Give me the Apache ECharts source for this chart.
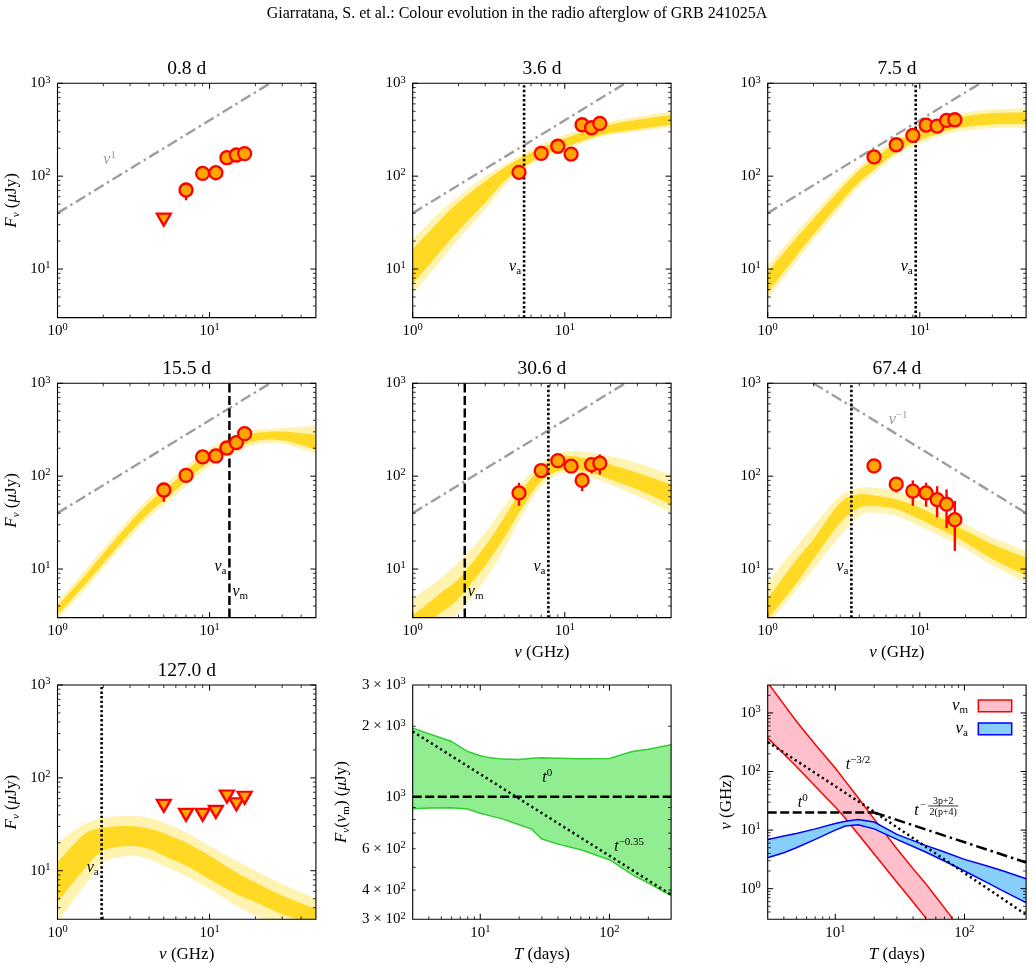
<!DOCTYPE html>
<html>
<head>
<meta charset="utf-8">
<script src="https://cdn.jsdelivr.net/npm/echarts@6/dist/echarts.min.js"></script>
<style>
html, body { margin:0; padding:0; background:#fff; }
#chart { width:1034px; height:969px; }
</style>
</head>
<body>
<div id="chart"></div>
<script>
// ======================= DATA =======================
const figureTitle = 'Giarratana, S. et al.: Colour evolution in the radio afterglow of GRB 241025A';
const epochLabels = ['0.8 d', '3.6 d', '7.5 d', '15.5 d', '30.6 d', '67.4 d', '127.0 d'];
const freqGHz = [5, 7, 9, 11, 13, 15, 17];

// measured flux densities (uJy) and 1-sigma bounds
const flux_0_8   = [34, 71, 107, 109, 158, 169, 175];
const fluxLo_0_8 = [34, 55, 99, 90, 150, 161, 167];
const fluxHi_0_8 = [34, 85, 115, 126, 166, 177, 183];
const isLimit_0_8 = [1, 0, 0, 0, 0, 0, 0];

const flux_3_6   = [110, 176, 210, 173, 358, 332, 370];
const fluxLo_3_6 = [92, 166, 200, 163, 344, 320, 356];
const fluxHi_3_6 = [124, 186, 220, 183, 372, 344, 384];

const flux_7_5   = [161, 218, 275, 355, 346, 398, 405];
const fluxLo_7_5 = [153, 209, 264, 341, 332, 382, 389];
const fluxHi_7_5 = [169, 227, 286, 369, 360, 414, 421];

const flux_15_5   = [71, 102, 161, 165, 201, 230, 287];
const fluxLo_15_5 = [53, 91, 153, 157, 191, 219, 273];
const fluxHi_15_5 = [85, 113, 169, 173, 211, 241, 301];

const flux_30_6   = [66, 115, 147, 128, 90, 133, 138];
const fluxLo_30_6 = [48, 100, 139, 120, 69, 107, 104];
const fluxHi_30_6 = [85, 134, 155, 136, 109, 157, 171];

const flux_67_4   = [129, 82, 69, 66, 56, 50, 34];
const fluxLo_67_4 = [107, 67, 48, 47, 36, 27.5, 15.7];
const fluxHi_67_4 = [151, 92, 90, 85, 78, 72, 54];

const limit_127_0 = [50, 40, 40, 43, 63, 52, 61];
const noLimit = [0, 0, 0, 0, 0, 0, 0];
const allLimit = [1, 1, 1, 1, 1, 1, 1];

// model envelope (posterior curves): outer spread and dense core
const modelNu = [1, 1.5, 2, 3, 4, 5, 7, 10, 15, 20, 30, 50];

const model_3_6_outerHi = [21, 40.5, 61, 100, 133, 164, 222, 279, 343, 388, 439, 497];
const model_3_6_outerLo = [5.4, 11.8, 21, 44, 78, 109, 153, 193, 247, 279, 303, 338];
const model_3_6_coreHi  = [16.4, 33, 52, 88, 123, 153, 201, 255, 321, 361, 405, 458];
const model_3_6_coreLo  = [6.9, 15.1, 25.8, 52, 88, 116, 164, 205, 260, 291, 321, 358];

const model_7_5_outerHi = [10.9, 23.7, 39.8, 81.5, 128, 168, 253, 338, 429, 485, 522, 540];
const model_7_5_outerLo = [4.8, 11.3, 20.6, 45.8, 78.1, 106, 168, 224, 285, 311, 330, 330];
const model_7_5_coreHi  = [9.2, 20.5, 34.9, 72, 116, 152, 233, 311, 395, 443, 477, 489];
const model_7_5_coreLo  = [5.6, 13.1, 23.5, 51.8, 86.3, 117, 182, 243, 308, 340, 361, 364];

const model_15_5_outerHi = [4.4, 9.6, 16.6, 35.8, 58.6, 79.4, 128, 201, 279, 316, 330, 349];
const model_15_5_outerLo = [2.9, 5.9, 10.2, 21.8, 35.8, 48.5, 78.1, 128, 181, 218, 224, 175];
const model_15_5_coreHi  = [4.0, 8.3, 14.7, 31.6, 51.8, 70.2, 113, 181, 247, 291, 303, 279];
const model_15_5_coreLo  = [3.2, 6.7, 11.5, 24.7, 40.5, 54.8, 88.3, 144, 200, 239, 243, 193];

const model_30_6_outerHi = [4.8, 7.8, 11.8, 24.7, 47.7, 78.1, 139, 185, 178, 164, 139, 104];
const model_30_6_outerLo = [1.6, 2.5, 3.4, 7.8, 16.4, 33, 78.1, 109, 96, 81.5, 61, 40.5];
const model_30_6_coreHi  = [3.16, 5.4, 7.8, 17.8, 35.8, 63.7, 123, 164, 151, 133, 109, 81.5];
const model_30_6_coreLo  = [1.9, 3.3, 4.8, 10.9, 21.8, 40.5, 88.3, 118, 109, 92, 72, 49.7];

const model_67_4_outerHi = [7.2, 16.4, 29.1, 61, 75, 75, 69, 54, 38.8, 30.3, 21.8, 15.7];
const model_67_4_outerLo = [2.5, 5.6, 10, 22.8, 37.3, 40.5, 37.3, 29.1, 21, 16.4, 10.9, 7.2];
const model_67_4_coreHi  = [4.8, 11.8, 21, 51.8, 63.7, 62, 56.2, 45.8, 33, 25.8, 18.5, 13.3];
const model_67_4_coreLo  = [2.9, 6.6, 12.8, 31.6, 45.8, 47.7, 44, 34.3, 24.7, 19.3, 12.8, 8.5];

const model_127_0_outerHi = [20.1, 31.6, 37.3, 38.8, 37.3, 33, 25.8, 18.5, 12.8, 10, 7.2, 5.0];
const model_127_0_outerLo = [2.8, 6.9, 12.3, 14.5, 13.3, 11.3, 8.8, 6.4, 4.2, 3.3, 2.4, 1.7];
const model_127_0_coreHi  = [12.3, 24.7, 29.1, 30.3, 28.4, 25.4, 20.1, 14.5, 9.6, 7.5, 5.4, 3.9];
const model_127_0_coreLo  = [4.6, 10.4, 16.4, 18.5, 17.1, 14.5, 11.3, 8.1, 5.6, 4.6, 3.4, 2.6];

// break frequencies (GHz) per epoch
const nuAbs = [null, 5.4, 9.4, 13.5, 7.8, 3.55, 1.95];
const nuMin = [null, null, null, 13.5, 2.2, null, null];

// reference power laws
const guideRiseNu = [1, 25],  guideRiseFlux = [40, 1000];   // nu^1
const guideFallNu = [2, 50],  guideFallFlux = [1000, 40];   // nu^-1

// F_nu(nu_m) evolution
const fmT  = [3, 4, 6, 8, 10, 12, 15, 20, 25, 30, 40, 60, 100, 150, 200, 300];
const fmHi = [1963, 1858, 1722, 1560, 1496, 1466, 1448, 1443, 1462, 1466, 1462, 1452, 1458, 1560, 1596, 1667];
const fmLo = [889, 895, 898, 886, 851, 829, 803, 760, 728, 660, 628, 594, 539, 465, 428, 379];
const fmFlatT = [3, 300], fmFlatF = [1000, 1000];
const fmDeclT = [3, 300], fmDeclF = [1900, 382];

// nu_m and nu_a evolution
const numHiT = [3, 4, 5, 7, 10, 12, 15, 20, 30, 40, 50, 60, 70, 81];
const numHi  = [3300, 1400, 720, 290, 115, 68, 36, 15.4, 4.8, 2.2, 1.23, 0.73, 0.47, 0.308];
const numLoT = [3, 4, 5, 7, 10, 12, 15, 20, 30, 40, 50.7];
const numLo  = [375, 199, 122, 56, 24.7, 15.8, 8.6, 3.9, 1.29, 0.59, 0.308];
const nuaT  = [3, 4, 5, 7, 10, 12, 15, 20, 30, 50, 70, 100, 150, 200, 300];
const nuaHi = [6.93, 7.9, 8.78, 10.5, 13.0, 14.2, 15.2, 13.7, 8.43, 5.48, 4.22, 3.16, 2.43, 2.0, 1.48];
const nuaLo = [3.37, 4.11, 5.0, 6.93, 10.0, 11.7, 12.3, 10.5, 6.93, 4.22, 2.97, 2.0, 1.27, 0.91, 0.577];
const nuFlatT = [3, 20], nuFlat = [20, 20];
const nuSteepT = [3, 18, 300], nuSteep = [320, 24, 0.36];
const nuLateT = [20, 300], nuLate = [20, 2.8];

// axis ranges / ticks / tick labels
const sedXRange = [1, 50], sedYRange = [3, 1000];
const sedXMajor = [1, 10], sedXMinor = [2, 3, 4, 5, 6, 7, 8, 9, 20, 30, 40];
const sedYMajor = [10, 100, 1000];
const sedYMinor = [4, 5, 6, 7, 8, 9, 20, 30, 40, 50, 60, 70, 80, 90, 200, 300, 400, 500, 600, 700, 800, 900];
const sedXLabelValues = [1, 10], sedXLabels = ['{b|10}{e|0}', '{b|10}{e|1}'];
const sedYLabelValues = [10, 100, 1000], sedYLabels = ['{b|10}{e|1}', '{b|10}{e|2}', '{b|10}{e|3}'];

const tRange = [3, 300];
const tMajor = [10, 100], tMinor = [4, 5, 6, 7, 8, 9, 20, 30, 40, 50, 60, 70, 80, 90, 200];
const tLabelValues = [10, 100], tLabels = ['{b|10}{e|1}', '{b|10}{e|2}'];
const fmYRange = [300, 3000];
const fmYMajor = [1000], fmYMinor = [400, 500, 600, 700, 800, 900, 2000];
const fmYLabelValues = [300, 400, 600, 1000, 2000, 3000];
const fmYLabels = ['{b|3 × 10}{e|2}', '{b|4 × 10}{e|2}', '{b|6 × 10}{e|2}', '{b|10}{e|3}', '{b|2 × 10}{e|3}', '{b|3 × 10}{e|3}'];
const nuYRange = [0.3, 3000];
const nuYMajor = [1, 10, 100, 1000];
const nuYMinor = [0.4, 0.5, 0.6, 0.7, 0.8, 0.9, 2, 3, 4, 5, 6, 7, 8, 9, 20, 30, 40, 50, 60, 70, 80, 90, 200, 300, 400, 500, 600, 700, 800, 900, 2000];
const nuYLabelValues = [1, 10, 100, 1000], nuYLabels = ['{b|10}{e|0}', '{b|10}{e|1}', '{b|10}{e|2}', '{b|10}{e|3}'];

// ======================= STYLE / LAYOUT =======================
const FONT = 'Liberation Serif';
const COL_X = [57.5, 412.7, 767.7], ROW_Y = [83.3, 383.3, 685];
const PW = 258.4, PH = 234.3;
const GOLD_OUT = 'rgba(255,215,0,0.30)', GOLD_CORE = 'rgba(255,210,0,0.80)';

function richFor(c, big) {
  const m = big || 16;
  return {
    i:  {fontFamily: FONT, fontStyle: 'italic', fontSize: m, lineHeight: 20, fill: c},
    r:  {fontFamily: FONT, fontSize: m, lineHeight: 20, fill: c},
    s:  {fontFamily: FONT, fontSize: 11, lineHeight: 12, verticalAlign: 'bottom', fill: c},
    si: {fontFamily: FONT, fontStyle: 'italic', fontSize: 11, lineHeight: 12, verticalAlign: 'bottom', fill: c},
    u:  {fontFamily: FONT, fontSize: 11, lineHeight: 11, verticalAlign: 'top', fill: c},
    b:  {fontFamily: FONT, fontSize: 15, lineHeight: 18, fill: c},
    e:  {fontFamily: FONT, fontSize: 10.5, lineHeight: 10, verticalAlign: 'top', fill: c}
  };
}
const RICH_K = richFor('#000');
const RICH_G = richFor('#9a9a9a');
const RICH_AX = richFor('#000', 17);

const grids = [], xAxes = [], yAxes = [], series = [], graphics = [];

function logAxis(gi, range) {
  return {type: 'log', logBase: 10, gridIndex: gi, min: range[0], max: range[1],
    axisLine: {show: false}, axisTick: {show: false}, axisLabel: {show: false},
    splitLine: {show: false}, minorTick: {show: false}, minorSplitLine: {show: false}};
}
function addGrid(gi, xr, yr) {
  const c = gi % 3, r = Math.floor(gi / 3);
  grids.push({left: COL_X[c], top: ROW_Y[r], width: PW, height: PH, show: false, containLabel: false});
  xAxes.push(logAxis(gi, xr));
  yAxes.push(logAxis(gi, yr));
}

function frameSeries(gi, cfg) {
  return {
    type: 'custom', xAxisIndex: gi, yAxisIndex: gi, silent: true, z: 20, clip: false,
    data: [[cfg.xr[0], cfg.yr[0]]],
    renderItem: function (params, api) {
      const bl = api.coord([cfg.xr[0], cfg.yr[0]]), tr = api.coord([cfg.xr[1], cfg.yr[1]]);
      const L = bl[0], B = bl[1], R = tr[0], T = tr[1];
      const ch = [];
      const ln = (x1, y1, x2, y2, w) => ch.push({type: 'line', shape: {x1, y1, x2, y2}, style: {stroke: '#000', lineWidth: w}});
      const xt = (v, len, w) => { const x = api.coord([v, cfg.yr[0]])[0]; ln(x, B, x, B - len, w); ln(x, T, x, T + len, w); };
      const yt = (v, len, w) => { const y = api.coord([cfg.xr[0], v])[1]; ln(L, y, L + len, y, w); ln(R, y, R - len, y, w); };
      cfg.xMajor.forEach(v => xt(v, 5.5, 1));
      cfg.xMinor.forEach(v => xt(v, 3, 0.8));
      cfg.yMajor.forEach(v => yt(v, 5.5, 1));
      cfg.yMinor.forEach(v => yt(v, 3, 0.8));
      ch.push({type: 'rect', shape: {x: L, y: T, width: R - L, height: B - T}, style: {fill: 'none', stroke: '#000', lineWidth: 1.1}});
      cfg.xLabelValues.forEach((v, i) => {
        const x = api.coord([v, cfg.yr[0]])[0];
        ch.push({type: 'text', x: x, y: B + 13.5, style: {text: cfg.xLabels[i], rich: RICH_K, fontFamily: FONT, fontSize: 15, align: 'center', verticalAlign: 'middle'}});
      });
      cfg.yLabelValues.forEach((v, i) => {
        const y = api.coord([cfg.xr[0], v])[1];
        ch.push({type: 'text', x: L - 7, y: y, style: {text: cfg.yLabels[i], rich: RICH_K, fontFamily: FONT, fontSize: 15, align: 'right', verticalAlign: 'middle'}});
      });
      return {type: 'group', children: ch};
    }
  };
}

function annoSeries(gi, items) {
  return {
    type: 'custom', xAxisIndex: gi, yAxisIndex: gi, silent: true, z: 15, clip: false,
    data: items.map(a => [a.x, a.y]),
    renderItem: function (params, api) {
      const a = items[params.dataIndex];
      const p = api.coord([a.x, a.y]);
      const x = p[0] + (a.dx || 0), y = p[1] + (a.dy || 0);
      if (a.frac) {
        const f = {fontFamily: FONT, fontSize: 10, fill: '#000'};
        return {type: 'group', children: [
          {type: 'text', x: x - 23, y: y + 1, style: {text: '{i|t}', rich: RICH_K, align: 'left', verticalAlign: 'middle'}},
          {type: 'text', x: x - 17, y: y - 4, style: Object.assign({text: '−', align: 'left', verticalAlign: 'middle'}, f)},
          {type: 'text', x: x + 6, y: y - 8, style: Object.assign({text: '3p+2', align: 'center', verticalAlign: 'middle'}, f)},
          {type: 'line', shape: {x1: x - 9, y1: y - 3.5, x2: x + 21, y2: y - 3.5}, style: {stroke: '#000', lineWidth: 0.8}},
          {type: 'text', x: x + 6, y: y + 2.5, style: Object.assign({text: '2(p+4)', align: 'center', verticalAlign: 'middle'}, f)}
        ]};
      }
      return {type: 'text', x: x, y: y, style: {text: a.text, rich: a.gray ? RICH_G : RICH_K, fontFamily: FONT, fontSize: 16, align: a.align || 'center', verticalAlign: 'middle'}};
    }
  };
}

function lineSeries(gi, xs, ys, color, width, type, z) {
  return {type: 'line', xAxisIndex: gi, yAxisIndex: gi, silent: true, symbol: 'none', z: z || 5,
    data: xs.map((x, i) => [x, ys[i]]),
    lineStyle: {color: color, width: width, type: type}};
}

// Catmull-Rom -> cubic bezier path segments through pixel points
function splineCmds(pts) {
  let d = '';
  for (let i = 0; i < pts.length - 1; i++) {
    const p0 = pts[Math.max(i - 1, 0)], p1 = pts[i], p2 = pts[i + 1], p3 = pts[Math.min(i + 2, pts.length - 1)];
    const c1x = p1[0] + (p2[0] - p0[0]) / 6, c1y = p1[1] + (p2[1] - p0[1]) / 6;
    const c2x = p2[0] - (p3[0] - p1[0]) / 6, c2y = p2[1] - (p3[1] - p1[1]) / 6;
    d += ' C ' + c1x + ' ' + c1y + ' ' + c2x + ' ' + c2y + ' ' + p2[0] + ' ' + p2[1];
  }
  return d;
}

// smooth model envelope drawn through the axis scales
function smoothBand(gi, lo, hi, color) {
  return {
    type: 'custom', xAxisIndex: gi, yAxisIndex: gi, silent: true, clip: true, z: 2,
    data: [[modelNu[0], sedYRange[0]]],
    renderItem: function (params, api) {
      const top = modelNu.map((v, i) => api.coord([v, hi[i]]));
      const bot = modelNu.map((v, i) => api.coord([v, lo[i]])).reverse();
      const d = 'M ' + top[0][0] + ' ' + top[0][1] + splineCmds(top) +
        ' L ' + bot[0][0] + ' ' + bot[0][1] + splineCmds(bot) + ' Z';
      return {type: 'path', shape: {pathData: d}, style: {fill: color, stroke: null}};
    }
  };
}

function bandPolygon(gi, anchor, xsHi, hi, xsLo, lo, fill, stroke) {
  return {
    type: 'custom', xAxisIndex: gi, yAxisIndex: gi, silent: true, clip: true, z: 2,
    data: [anchor],
    renderItem: function (params, api) {
      const top = xsHi.map((x, i) => api.coord([x, hi[i]]));
      const bot = xsLo.map((x, i) => api.coord([x, lo[i]]));
      const poly = top.concat(bot.slice().reverse());
      return {type: 'group', children: [
        {type: 'polygon', shape: {points: poly}, style: {fill: fill, stroke: null}},
        {type: 'polyline', shape: {points: top}, style: {stroke: stroke, lineWidth: 1.5, fill: null}},
        {type: 'polyline', shape: {points: bot}, style: {stroke: stroke, lineWidth: 1.5, fill: null}}
      ]};
    }
  };
}

const DOTTED = [2.4, 2.2], DASHED = [9, 3.5], DASHDOT = [11, 4, 2.5, 4];

// ======================= SED PANELS =======================
const sedPanels = [
  {flux: flux_0_8,  lo: fluxLo_0_8,  hi: fluxHi_0_8,  lim: isLimit_0_8, band: null, guide: 'rise', gLabel: {x: 2.2, y: 150, text: '{i|ν}{u|1}'}},
  {flux: flux_3_6,  lo: fluxLo_3_6,  hi: fluxHi_3_6,  lim: noLimit, band: [model_3_6_outerLo, model_3_6_outerHi, model_3_6_coreLo, model_3_6_coreHi], guide: 'rise'},
  {flux: flux_7_5,  lo: fluxLo_7_5,  hi: fluxHi_7_5,  lim: noLimit, band: [model_7_5_outerLo, model_7_5_outerHi, model_7_5_coreLo, model_7_5_coreHi], guide: 'rise'},
  {flux: flux_15_5, lo: fluxLo_15_5, hi: fluxHi_15_5, lim: noLimit, band: [model_15_5_outerLo, model_15_5_outerHi, model_15_5_coreLo, model_15_5_coreHi], guide: 'rise'},
  {flux: flux_30_6, lo: fluxLo_30_6, hi: fluxHi_30_6, lim: noLimit, band: [model_30_6_outerLo, model_30_6_outerHi, model_30_6_coreLo, model_30_6_coreHi], guide: 'rise'},
  {flux: flux_67_4, lo: fluxLo_67_4, hi: fluxHi_67_4, lim: noLimit, band: [model_67_4_outerLo, model_67_4_outerHi, model_67_4_coreLo, model_67_4_coreHi], guide: 'fall', gLabel: {x: 7.2, y: 404, text: '{i|ν}{u|−1}'}},
  {flux: limit_127_0, lo: null, hi: null, lim: allLimit, band: [model_127_0_outerLo, model_127_0_outerHi, model_127_0_coreLo, model_127_0_coreHi], guide: null}
];

sedPanels.forEach((p, gi) => {
  addGrid(gi, sedXRange, sedYRange);
  if (p.band) {
    series.push(smoothBand(gi, p.band[0], p.band[1], GOLD_OUT));
    series.push(smoothBand(gi, p.band[2], p.band[3], GOLD_CORE));
  }
  if (p.guide === 'rise') series.push(lineSeries(gi, guideRiseNu, guideRiseFlux, '#9e9e9e', 2.4, DASHDOT, 4));
  if (p.guide === 'fall') series.push(lineSeries(gi, guideFallNu, guideFallFlux, '#9e9e9e', 2.4, DASHDOT, 4));
  const annos = [];
  if (p.gLabel) annos.push(Object.assign({gray: true}, p.gLabel));
  if (nuAbs[gi] != null && nuAbs[gi] !== nuMin[gi]) {
    series.push(lineSeries(gi, [nuAbs[gi], nuAbs[gi]], sedYRange, '#000', 2.6, DOTTED, 5));
  }
  if (nuMin[gi] != null) {
    series.push(lineSeries(gi, [nuMin[gi], nuMin[gi]], sedYRange, '#000', 2.5, DASHED, 5));
  }
  if (nuAbs[gi] != null) annos.push({x: nuAbs[gi], y: 10.7, text: '{i|ν}{s|a}', align: 'right', dx: -3});
  if (nuMin[gi] != null) annos.push({x: nuMin[gi], y: 5.7, text: '{i|ν}{s|m}', align: 'left', dx: 3});
  // error bars
  if (p.lo) {
    const eb = [];
    freqGHz.forEach((f, i) => { if (!p.lim[i]) eb.push([f, p.lo[i], p.hi[i]]); });
    series.push({type: 'custom', xAxisIndex: gi, yAxisIndex: gi, silent: true, z: 6,
      data: eb,
      renderItem: function (params, api) {
        const a = api.coord([api.value(0), api.value(1)]);
        const b = api.coord([api.value(0), api.value(2)]);
        return {type: 'line', shape: {x1: a[0], y1: a[1], x2: b[0], y2: b[1]}, style: {stroke: '#FF0000', lineWidth: 2.4}};
      }});
  }
  series.push({type: 'scatter', xAxisIndex: gi, yAxisIndex: gi, silent: true, z: 7,
    symbolSize: 13,
    itemStyle: {color: '#FFA500', borderColor: '#FF0000', borderWidth: 2.3, opacity: 1},
    data: freqGHz.map((f, i) => p.lim[i]
      ? {value: [f, p.flux[i]], symbol: 'triangle', symbolRotate: 180, symbolSize: [14, 12]}
      : {value: [f, p.flux[i]], symbol: 'circle'})});
  if (annos.length) series.push(annoSeries(gi, annos));
  series.push(frameSeries(gi, {xr: sedXRange, yr: sedYRange, xMajor: sedXMajor, xMinor: sedXMinor,
    yMajor: sedYMajor, yMinor: sedYMinor, xLabelValues: sedXLabelValues, xLabels: sedXLabels,
    yLabelValues: sedYLabelValues, yLabels: sedYLabels}));
});

// ======================= F_nu(nu_m) PANEL =======================
addGrid(7, tRange, fmYRange);
series.push(bandPolygon(7, [10, 1000], fmT, fmHi, fmT, fmLo, '#90EE90', '#32CD32'));
series.push(lineSeries(7, fmFlatT, fmFlatF, '#000', 2.5, DASHED, 5));
series.push(lineSeries(7, fmDeclT, fmDeclF, '#000', 2.5, [2.2, 3.2], 5));
series.push(annoSeries(7, [
  {x: 33, y: 1206, text: '{i|t}{u|0}'},
  {x: 142, y: 611, text: '{i|t}{u|−0.35}'}
]));
series.push(frameSeries(7, {xr: tRange, yr: fmYRange, xMajor: tMajor, xMinor: tMinor,
  yMajor: fmYMajor, yMinor: fmYMinor, xLabelValues: tLabelValues, xLabels: tLabels,
  yLabelValues: fmYLabelValues, yLabels: fmYLabels}));

// ======================= nu_m / nu_a PANEL =======================
addGrid(8, tRange, nuYRange);
series.push(bandPolygon(8, [10, 10], numHiT, numHi, numLoT, numLo, '#FFC0CB', '#FF0000'));
series.push(bandPolygon(8, [10, 10], nuaT, nuaHi, nuaT, nuaLo, '#87CEFA', '#0000FF'));
series.push(lineSeries(8, nuFlatT, nuFlat, '#000', 2.5, DASHED, 5));
series.push(lineSeries(8, nuSteepT, nuSteep, '#000', 2.5, [2.2, 3.2], 5));
series.push(lineSeries(8, nuLateT, nuLate, '#000', 2.5, DASHDOT, 5));
series.push(annoSeries(8, [
  {x: 15, y: 131, text: '{i|t}{u|−3/2}'},
  {x: 5.6, y: 29.6, text: '{i|t}{u|0}'},
  {x: 61.6, y: 22.5, frac: true}
]));
series.push(frameSeries(8, {xr: tRange, yr: nuYRange, xMajor: tMajor, xMinor: tMinor,
  yMajor: nuYMajor, yMinor: nuYMinor, xLabelValues: tLabelValues, xLabels: tLabels,
  yLabelValues: nuYLabelValues, yLabels: nuYLabels}));

// ======================= TEXT (titles, axis names, legend) =======================
graphics.push({type: 'text', x: 517, y: 14, style: {text: figureTitle, fontFamily: FONT, fontSize: 16, fill: '#000', align: 'center', verticalAlign: 'middle'}});
epochLabels.forEach((t, k) => {
  const c = k % 3, r = Math.floor(k / 3);
  graphics.push({type: 'text', x: COL_X[c] + PW / 2, y: ROW_Y[r] - 14.5, style: {text: t, fontFamily: FONT, fontSize: 19.5, fill: '#000', align: 'center', verticalAlign: 'middle'}});
});
const FNU = '{i|F}{si|ν}{r| (}{i|μ}{r|Jy)}';
[0, 1, 2].forEach(r => graphics.push({type: 'text', x: 12, y: ROW_Y[r] + PH / 2, rotation: Math.PI / 2,
  style: {text: FNU, rich: RICH_AX, align: 'center', verticalAlign: 'middle'}}));
const NUGHZ = '{i|ν}{r| (GHz)}', TDAYS = '{i|T}{r| (days)}';
[[1, 1, NUGHZ], [2, 1, NUGHZ], [0, 2, NUGHZ], [1, 2, TDAYS], [2, 2, TDAYS]].forEach(([c, r, t]) =>
  graphics.push({type: 'text', x: COL_X[c] + PW / 2, y: ROW_Y[r] + PH + 35, style: {text: t, rich: RICH_AX, align: 'center', verticalAlign: 'middle'}}));
graphics.push({type: 'text', x: 342, y: ROW_Y[2] + PH / 2, rotation: Math.PI / 2,
  style: {text: '{i|F}{si|ν}{r|(}{i|ν}{s|m}{r|) (}{i|μ}{r|Jy)}', rich: RICH_AX, align: 'center', verticalAlign: 'middle'}});
graphics.push({type: 'text', x: 727, y: ROW_Y[2] + PH / 2, rotation: Math.PI / 2,
  style: {text: NUGHZ, rich: RICH_AX, align: 'center', verticalAlign: 'middle'}});
// legend of last panel
graphics.push({type: 'rect', shape: {x: 978.3, y: 700, width: 33.4, height: 11.7}, style: {fill: '#FFC0CB', stroke: '#FF0000', lineWidth: 1.5}});
graphics.push({type: 'rect', shape: {x: 978.3, y: 723, width: 33.4, height: 11.7}, style: {fill: '#87CEFA', stroke: '#0000FF', lineWidth: 1.5}});
graphics.push({type: 'text', x: 968, y: 706, style: {text: '{i|ν}{s|m}', rich: RICH_AX, align: 'right', verticalAlign: 'middle'}});
graphics.push({type: 'text', x: 968, y: 729, style: {text: '{i|ν}{s|a}', rich: RICH_AX, align: 'right', verticalAlign: 'middle'}});

const chart = echarts.init(document.getElementById('chart'), null, {renderer: 'canvas'});
chart.setOption({
  animation: false,
  backgroundColor: '#fff',
  grid: grids,
  xAxis: xAxes,
  yAxis: yAxes,
  series: series,
  graphic: {elements: graphics}
});
</script>
</body>
</html>
